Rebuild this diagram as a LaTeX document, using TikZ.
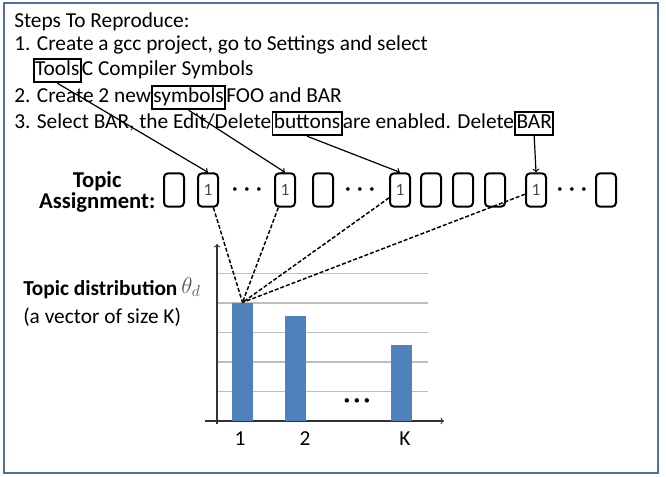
\documentclass[tikz,border=0pt]{standalone}
\usepackage{fontspec}
\setmainfont{Carlito}
\usetikzlibrary{arrows, positioning, calc}
\definecolor{framecol}{RGB}{79,110,165}
\definecolor{barblue}{RGB}{79,129,189}
\definecolor{gridgray}{RGB}{190,190,190}

\begin{document}
\begin{tikzpicture}[x=0.75pt, y=-0.75pt,
    txt/.style={inner sep=0pt, anchor=base west, font=\fontsize{16}{18}\selectfont},
    wordbox/.style={txt, draw, line width=1.3pt, inner xsep=1pt, inner ysep=1.5pt,
        text height=10.5pt, text depth=4pt},
    slot/.style={draw, line width=1.5pt, rounded corners=3pt, minimum width=15pt,
        minimum height=25pt, inner sep=0pt, text=black!70, font=\fontsize{13}{15}\selectfont},
    link/.style={->, line width=0.9pt},
    tie/.style={dashed, line width=1.1pt, dash pattern=on 3pt off 1.5pt},
    bar/.style={fill=barblue, inner sep=0pt, minimum width=15.75pt, anchor=south}]
    \useasboundingbox (0,0) rectangle (666,476);
    \draw[framecol, line width=2.2pt] (4,3) rectangle (658,473);

    % Steps text
    \node[txt] (st0) at (14,27) {Steps To Reproduce:};
    \node[txt] (st1) at (14,50) {1. Create a gcc project, go to Settings and select};
    \node[wordbox] (tools) at (33,75) {Tools};
    \node[txt] (st2) at (tools.base east) {C Compiler Symbols};
    \node[txt] (st3) at (14,102) {2. Create 2 new};
    \node[wordbox] (symbols) at (st3.base east) {symbols};
    \node[txt] (st3b) at (symbols.base east) {FOO and BAR};
    \node[txt] (st4) at (14,128) {3. Select BAR, the Edit/Delete};
    \node[wordbox] (bar) at (st4.base east) {buttons};
    \node[txt] (st4b) at (bar.base east) {are enabled. Delete};
    \node[wordbox] (barword) at (st4b.base east) {BAR};

    % Topic assignment row
    \node[align=center, anchor=east, font=\fontsize{17}{16}\selectfont\bfseries] (ta) at (160,192) {Topic\\Assignment:};
    \foreach \i/\x in {1/174,4/323,6/431,7/463,8/495,10/606}
        \node[slot] (s\i) at (\x,190) {};
    \foreach \i/\x in {2/208,3/285,5/400,9/536}
        \node[slot] (s\i) at (\x,190) {1};
    \foreach \i/\x in {1/247,2/360,3/572}
        \node[font=\fontsize{6}{6}\selectfont] (dots\i) at (\x,190) {$\bullet\hspace{3.5pt}\bullet\hspace{3.5pt}\bullet$};

    % word -> slot
    \draw[link] (tools.south) -- (s2.north);
    \draw[link] (symbols.south) -- (s3.north);
    \draw[link] (bar.south) -- (s5.north);
    \draw[link] (barword.south) -- (s9.north);

    % Chart
    \foreach \k in {1,...,5}
        \draw[gridgray, line width=1pt] (217,{421-29.5*\k}) -- (428,{421-29.5*\k});
    \draw[->, black!80, line width=0.8pt] (217,424) -- (217,244);
    \draw[->, black!80, line width=0.8pt] (205,421) -- (444,421);
    \node[bar, minimum height=88.5pt] (b1) at (242.5,421) {};
    \node[bar, minimum height=78.75pt] (b2) at (295.5,421) {};
    \node[bar, minimum height=57pt] (bk) at (401,421) {};
    \node[font=\footnotesize] (cdots) at (357,401) {$\bullet\,\bullet\,\bullet$};
    \node[txt, anchor=center] (l1) at (240,439) {1};
    \node[txt, anchor=center] (l2) at (305,439) {2};
    \node[txt, anchor=center] (lk) at (405,439) {K};

    % slot -> bar 1
    \foreach \i in {2,3,5,9}
        \draw[tie] (s\i) -- (b1.north);

    \node[txt, font=\fontsize{16}{18}\selectfont\bfseries] (td) at (23,295) {Topic distribution};
    \node[txt, anchor=base west, text=black!65, font=\LARGE] (theta) at (181,293) {$\theta_{d}$};
    \node[txt] (td2) at (23,323) {(a vector of size K)};
\end{tikzpicture}
\end{document}
